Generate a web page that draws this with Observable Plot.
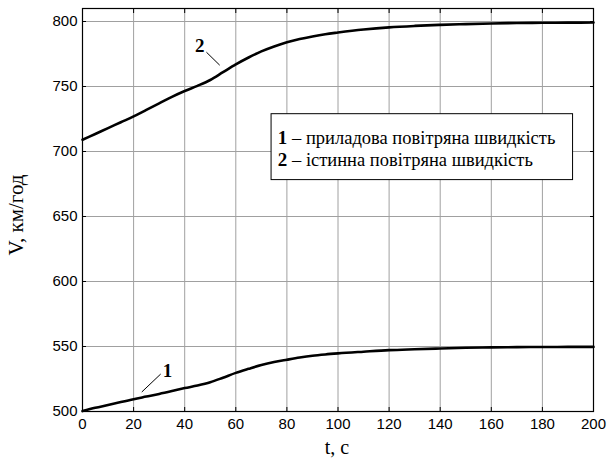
<!DOCTYPE html>
<html>
<head>
<meta charset="utf-8">
<script src="https://cdn.jsdelivr.net/npm/d3@7"></script>
<script src="https://cdn.jsdelivr.net/npm/@observablehq/plot@0.6"></script>
<style>
  html, body { margin: 0; padding: 0; background: #fff; }
  #chart { width: 608px; height: 466px; }
</style>
</head>
<body>
<div id="chart"></div>
<script>
// Time, s
const t = [0,5,10,15,20,25,30,35,40,45,50,55,60,65,70,75,80,85,90,95,100,110,120,130,140,150,160,170,180,190,200];
// 1 — indicated airspeed, km/h
const v1 = [500.3,502.8,505,507.3,509.5,511.5,513.5,515.7,518,520,522.5,526,529.7,532.8,535.7,538,539.8,541.5,542.9,543.9,544.7,546,547.2,547.9,548.5,549,549.3,549.5,549.6,549.7,549.7];
// 2 — true airspeed, km/h
const v2 = [709,713.5,718,722.5,727,732,737,742,746.5,750.5,755,761,767,772.3,777,780.8,784,786.5,788.5,790.2,791.5,793.8,795.5,796.6,797.4,798,798.5,798.8,799,799.1,799.2];

const xTicks = [0,20,40,60,80,100,120,140,160,180,200];
const yTicks = [500,550,600,650,700,750,800];
const xLabel = "t, с";
const yLabel = "V, км/год";

// curve labels (number, anchor point and leader line, in data units)
const curveLabels = [
  {n: "1", t: 33.3, v: 531, t1: 23.2, v1: 515, t2: 30.6, v2: 528.8},
  {n: "2", t: 45.9, v: 781, t1: 53.7, v1: 766.4, t2: 48.5, v2: 776.4}
];
// legend box (data units)
const legendBox = [{t1: 74, t2: 192, v1: 678, v2: 728.7}];
const legendRows = [
  {n: "1", text: "– приладова повітряна швидкість", v: 710.2},
  {n: "2", text: "– істинна повітряна швидкість", v: 693.3}
];
const legendNumT = 76.4, legendTextT = 82;

const series = [];
t.forEach((tt, i) => {
  series.push({t: tt, v: v1[i], s: "1"});
  series.push({t: tt, v: v2[i], s: "2"});
});

const serif = "Liberation Serif";
const sans = "Liberation Sans";

const plot = Plot.plot({
  width: 608,
  height: 466,
  marginLeft: 82,
  marginRight: 15,
  marginTop: 8,
  marginBottom: 55,
  style: {fontFamily: sans, fontSize: "15px", color: "#000", background: "#fff"},
  x: {domain: [0, 200]},
  y: {domain: [500, 810]},
  marks: [
    Plot.gridX(xTicks, {stroke: "#a0a0a0", strokeOpacity: 1, strokeWidth: 1}),
    Plot.gridY(yTicks, {stroke: "#a0a0a0", strokeOpacity: 1, strokeWidth: 1}),
    Plot.axisX(xTicks, {anchor: "bottom", tickSize: -4, tickPadding: 11, label: null, fontSize: 15, stroke: "#000"}),
    Plot.axisX(xTicks, {anchor: "top", tickSize: -4, tickFormat: () => "", label: null}),
    Plot.axisY(yTicks, {anchor: "left", tickSize: -4, tickPadding: 9, label: null, fontSize: 15}),
    Plot.axisY(yTicks, {anchor: "right", tickSize: -4, tickFormat: () => "", label: null}),
    Plot.line(series, {x: "t", y: "v", z: "s", stroke: "#000", strokeWidth: 2.6, curve: "monotone-x"}),
    Plot.link(curveLabels, {x1: "t1", y1: "v1", x2: "t2", y2: "v2", stroke: "#000", strokeWidth: 1}),
    Plot.text(curveLabels, {x: "t", y: "v", text: "n", fontFamily: serif, fontWeight: "bold", fontSize: 19}),
    Plot.rect(legendBox, {x1: "t1", x2: "t2", y1: "v1", y2: "v2", fill: "#fff", stroke: "#000", strokeWidth: 1}),
    Plot.text(legendRows, {x: () => legendNumT, y: "v", text: "n", textAnchor: "start", fontFamily: serif, fontWeight: "bold", fontSize: 19}),
    Plot.text(legendRows, {x: () => legendTextT, y: "v", text: "text", textAnchor: "start", fontFamily: serif, fontSize: 18.5}),
    Plot.frame({stroke: "#000", strokeWidth: 1.2})
  ]
});

// axis titles
const svg = d3.select(plot);
svg.append("text")
  .attr("x", 337).attr("y", 449)
  .attr("text-anchor", "middle").attr("dominant-baseline", "middle")
  .attr("font-family", serif).attr("font-size", 20).attr("fill", "#000")
  .text(xLabel);
svg.append("text")
  .attr("transform", "translate(18,215) rotate(-90)")
  .attr("text-anchor", "middle").attr("dominant-baseline", "middle")
  .attr("font-family", serif).attr("font-size", 21).attr("fill", "#000")
  .text(yLabel);

document.getElementById("chart").appendChild(plot);
</script>
</body>
</html>
